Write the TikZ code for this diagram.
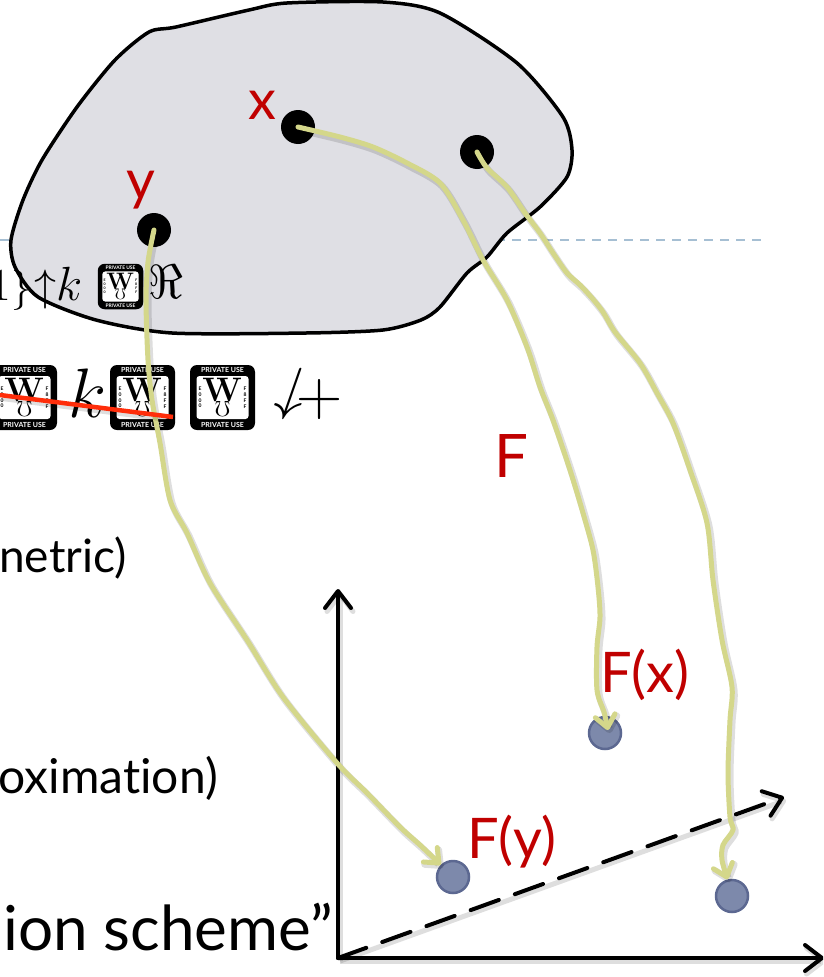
\RequirePackage{fix-cm}
\documentclass[tikz,border=0pt]{standalone}
\usepackage[no-math]{fontspec}
\usepackage{amssymb}
\setmainfont{Lato}[Ligatures={NoCommon}]
\usetikzlibrary{arrows.meta}
\definecolor{blobfill}{RGB}{223,223,228}
\definecolor{ylw}{RGB}{212,215,138}
\definecolor{dred}{RGB}{192,0,0}
\definecolor{dotblue}{RGB}{125,137,171}
\definecolor{dotedge}{RGB}{92,104,145}
\definecolor{guide}{RGB}{166,191,211}
\definecolor{strike}{RGB}{255,45,10}
\tikzset{
  shad/.style={preaction={draw=black, draw opacity=0.13, line width=#1, transform canvas={shift={(2pt,-3pt)}}}},
  yarrow/.style={draw=ylw, line width=5pt, line cap=round, line join=round,
     -{Straight Barb[length=12pt,width=20pt,round]}, shad=7pt},
  axisline/.style={line width=4pt, line cap=round, -{Straight Barb[length=17pt,width=26pt,round]}, shad=5pt},
  bdot/.style={circle, fill=black, minimum size=34pt, inner sep=0pt},
  udot/.style={circle, fill=dotblue, draw=dotedge, line width=2.5pt, minimum size=32pt, inner sep=0pt},
  lbl/.style={text=dred, font=\fontsize{56}{60}\selectfont, inner sep=0pt},
  bul/.style={inner sep=0pt, anchor=base east},
  mth/.style={inner sep=0pt},
  pubox/.pic={
    \fill[black, rounded corners=7pt] (-32.5,-32.5) rectangle (32.5,32.5);
    \fill[white, rounded corners=3pt] (-26,-21.5) rectangle (26,21.5);
    \node[text=white, font=\fontsize{7}{7}\selectfont\bfseries, inner sep=0pt] at (0,-27.2) {PRIVATE USE};
    \node[text=white, font=\fontsize{7}{7}\selectfont\bfseries, inner sep=0pt] at (0,27.2) {PRIVATE USE};
    \node[font=\fontsize{5}{5.8}\selectfont\bfseries, inner sep=0pt, align=center] at (-22.5,0) {E\\0\\0\\0};
    \node[font=\fontsize{5}{5.8}\selectfont\bfseries, inner sep=0pt, align=center] at (22.5,0) {F\\8\\F\\F};
    \node[font=\fontsize{34}{34}\selectfont, inner sep=0pt] at (0,-8) {$\mathbf{W}$};
    \node[font=\fontsize{22}{22}\selectfont, inner sep=0pt] at (0,11) {$\mho$};
  }
}
\begin{document}
\begin{tikzpicture}[x=1pt, y=-1pt]
\useasboundingbox (0,0) rectangle (823,977);
\fill[white] (0,0) rectangle (823,977);
\clip (0,0) rectangle (823,977);

% guide line
\coordinate (g1) at (0,240);
\coordinate (g2) at (765,240);
\draw[guide, line width=1.5pt, dash pattern=on 9pt off 7pt] (g1) -- (g2);

% blob
\draw[fill=blobfill, line width=3.5pt, line join=round]
  plot[smooth cycle, tension=0.45] coordinates {
  (149,32) (176,27) (249,10) (287,3) (383,2) (440,13) (517,63) (563,117) (572,150)
  (567,177) (540,207) (507,233) (487,257) (467,273) (440,307) (421,320) (383,330)
  (306,333) (172,333) (96,320) (38,297) (15,267) (11,240) (23,200) (42,160) (77,107) (115,60)};

% first garbled line
\node[mth, anchor=base east, font=\fontsize{46}{46}\selectfont] (m1a) at (11,300) {$1$};
\node[mth, anchor=base, font=\fontsize{40}{40}\selectfont] (m1b) at (22,300) {$\}$};
\node[mth, anchor=base, font=\fontsize{44}{44}\selectfont] (m1c) at (45,300) {$\uparrow$};
\node[mth, anchor=base west, font=\fontsize{48}{48}\selectfont] (m1d) at (56,300) {$k$};
\pic[scale=0.7, transform shape] at (120.5,286.5) {pubox};
\node[mth, anchor=base west, font=\fontsize{48}{48}\selectfont] (m2) at (148,298) {$\Re$};

% second garbled line
\pic at (24.5,397.5) {pubox};
\node[mth, anchor=base, font=\fontsize{70}{70}\selectfont] (m3) at (87,417) {$k$};
\pic at (142.5,397.5) {pubox};
\pic at (222.5,397.5) {pubox};
\node[mth, anchor=south, xslant=0.35, font=\fontsize{58}{58}\selectfont] (m4) at (283,420) {$\downarrow$};
\node[mth, font=\fontsize{64}{64}\selectfont] (m5) at (320,399) {$+$};

% bullet text fragments
\node[bul, font=\fontsize{46}{46}\selectfont] (t1) at (127,572) {netric)};
\node[bul, font=\fontsize{48}{48}\selectfont] (t2) at (218,793) {oximation)};
\node[bul, font=\fontsize{62}{62}\selectfont] (t3) at (333,950) {ion scheme”};

% axes
\coordinate (O) at (338,958);
\coordinate (ytop) at (338,589);
\coordinate (xend) at (824,958);
\coordinate (dend) at (784,797);
\draw[axisline] (O) -- (ytop);
\draw[axisline] (O) -- (xend);
\draw[axisline, dash pattern=on 30pt off 17pt] (O) -- (dend);

% points
\node[bdot] (xdot) at (298,127) {};
\node[bdot] (ydot) at (154,230) {};
\node[bdot] (zdot) at (477,152) {};
\node[udot] (fx) at (605,733) {};
\node[udot] (fy) at (453,877) {};
\node[udot] (fz) at (732,896) {};

% labels
\node[lbl, anchor=base] (lx) at (262,119) {x};
\node[lbl, anchor=base] (ly) at (141,199) {y};
\node[lbl, anchor=base west, font=\fontsize{60}{60}\selectfont] (lF) at (494,477) {F};
\node[lbl, anchor=base west] (lfx) at (600,692) {F(x)};
\node[lbl, anchor=base west] (lfy) at (467,858) {F(y)};

% mapping arrows
\draw[yarrow] plot[smooth, tension=0.5] coordinates {
  (ydot.center) (148,262) (146,300) (148,360) (152,400) (160,443) (170,500) (187,533)
  (210,583) (247,640) (283,697) (337,763) (367,793) (400,827) (420,845) (fy.135)};
\draw[yarrow] plot[smooth, tension=0.5] coordinates {
  (xdot.center) (340,137) (373,147) (407,163) (440,183) (463,220) (483,260) (507,300)
  (527,347) (540,387) (553,420) (570,470) (583,513) (593,550) (598,587) (600,617)
  (597,647) (597,690) (604,712) ([shift={(3pt,3pt)}]fx.center)};
\draw[yarrow] plot[smooth, tension=0.5] coordinates {
  (zdot.center) (487,168) (507,187) (525,213) (540,233) (553,253) (567,273) (580,285)
  (592,298) (603,312) (615,332) (640,363) (657,393) (673,423) (690,470) (707,523)
  (713,580) (722,640) (732,687) (730,720) (728,773) (730,817) (733,830) (723,845)
  (722,860) (fz.105)};

% strike line
\coordinate (s1) at (0,395);
\coordinate (s2) at (173,417);
\draw[strike, line width=4.5pt, shad=6pt] (s1) -- (s2);
\end{tikzpicture}
\end{document}
